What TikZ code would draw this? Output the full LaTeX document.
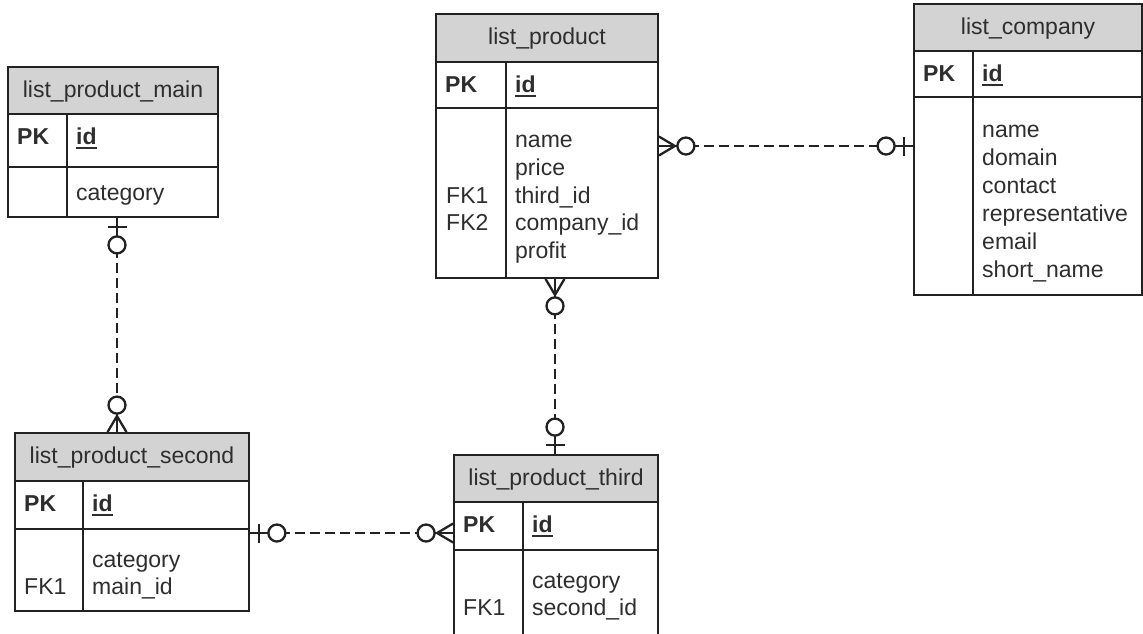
\documentclass[tikz,border=0pt]{standalone}
\usepackage{fontspec}
\setmainfont{Liberation Sans}
\usetikzlibrary{fit}

\definecolor{ink}{HTML}{222222}
\definecolor{txt}{HTML}{2E2E2E}
\definecolor{hdr}{HTML}{D3D3D3}

\tikzset{
  frame/.style={draw=ink, line width=1.8pt},
  rel/.style={draw=ink, line width=2.4pt, dash pattern=on 10pt off 5pt},
  lbl/.style={anchor=base west, inner sep=0pt, text=txt,
              font=\fontsize{23}{27.7}\selectfont},
  keylbl/.style={lbl, font=\fontsize{23}{27.7}\selectfont\bfseries},
  ttl/.style={anchor=base, inner sep=0pt, text=txt,
              font=\fontsize{23}{27.7}\selectfont},
  idline/.style={draw=txt, line width=1.8pt},
  endmark/.style={draw=ink, line width=2.3pt},
  % zero-or-one end: bar and circle
  pics/zeroone/.style={code={
    \draw[endmark] (0,0) -- (19,0);
    \draw[endmark] (9,-9.5) -- (9,9.5);
    \draw[endmark, fill=white] (27,0) circle[radius=8.5pt];
  }},
  % zero-or-many end: crow's foot and circle
  pics/zeromany/.style={code={
    \draw[endmark] (0,0) -- (19,0);
    \draw[endmark] (0,-9.5) -- (16,0) -- (0,9.5);
    \draw[endmark, fill=white] (27,0) circle[radius=8.5pt];
  }}
}

% #1 name, #2 left, #3 top, #4 right, #5 bottom, #6 key column x,
% #7 header bottom, #8 key row bottom, #9 title
\newcommand\erdtable[9]{%
  \fill[hdr] (#2,#3) rectangle (#4,#7);
  \node[fit={(#2,#3) (#4,#5)}, inner sep=0pt, frame] (#1) {};
  \draw[frame] (#2,#7) -- (#4,#7) (#2,#8) -- (#4,#8) (#6,#7) -- (#6,#5);
  \node[ttl] (#1-title) at ({(#2+#4)/2},{#3+30}) {#9};
  \node[keylbl] (#1-pk) at ({#2+9},{#7+30}) {PK};
  \node[keylbl] (#1-id) at ({#6+9},{#7+30}) {id};
  \draw[idline] ([yshift=-4pt]#1-id.base west) -- ([yshift=-4pt]#1-id.base east);
}

\begin{document}
\begin{tikzpicture}[x=1pt, y=-1pt]
  \clip (0,0) rectangle (1143,633);
  \fill[white] (0,0) rectangle (1143,633);

  % tables
  \erdtable{main}{8}{67}{218}{217}{67}{114}{167}{list\_product\_main}
  \node[lbl] (main-f1) at (76,200) {category};

  \erdtable{prod}{436}{14}{658}{278}{506}{62}{108}{list\_product}
  \node[lbl] (prod-f1) at (515,147) {name};
  \node[lbl] (prod-f2) at (515,175) {price};
  \node[lbl] (prod-f3) at (515,203) {third\_id};
  \node[lbl] (prod-f4) at (515,230.5) {company\_id};
  \node[lbl] (prod-f5) at (515,258) {profit};
  \node[lbl] (prod-k1) at (446,203) {FK1};
  \node[lbl] (prod-k2) at (446,230.5) {FK2};

  \erdtable{comp}{914}{4}{1142}{295}{973}{51}{97}{list\_company}
  \node[lbl] (comp-f1) at (982,137) {name};
  \node[lbl] (comp-f2) at (982,165) {domain};
  \node[lbl] (comp-f3) at (982,193) {contact};
  \node[lbl] (comp-f4) at (982,221) {representative};
  \node[lbl] (comp-f5) at (982,249) {email};
  \node[lbl] (comp-f6) at (982,277) {short\_name};

  \erdtable{second}{15}{433}{249}{611}{83}{481}{529}{list\_product\_second}
  \node[lbl] (second-f1) at (92,567) {category};
  \node[lbl] (second-f2) at (92,594) {main\_id};
  \node[lbl] (second-k1) at (24,594) {FK1};

  \erdtable{third}{454}{455}{658}{645}{523}{502}{550}{list\_product\_third}
  \node[lbl] (third-f1) at (532,588) {category};
  \node[lbl] (third-f2) at (532,615) {second\_id};
  \node[lbl] (third-k1) at (463,615) {FK1};

  % relationships
  \draw[rel] (117,0 |- main.south) -- (117,0 |- second.north);
  \pic[rotate=-90] at (117,0 |- main.south) {zeroone};
  \pic[rotate=90] at (117,0 |- second.north) {zeromany};

  \draw[rel] (prod.east |- 0,146) -- (comp.west |- 0,146);
  \pic at (prod.east |- 0,146) {zeromany};
  \pic[rotate=180] at (comp.west |- 0,146) {zeroone};

  \draw[rel] (555,0 |- prod.south) -- (555,0 |- third.north);
  \pic[rotate=-90] at (555,0 |- prod.south) {zeromany};
  \pic[rotate=90] at (555,0 |- third.north) {zeroone};

  \draw[rel] (second.east |- 0,533) -- (third.west |- 0,533);
  \pic at (second.east |- 0,533) {zeroone};
  \pic[rotate=180] at (third.west |- 0,533) {zeromany};
\end{tikzpicture}
\end{document}
